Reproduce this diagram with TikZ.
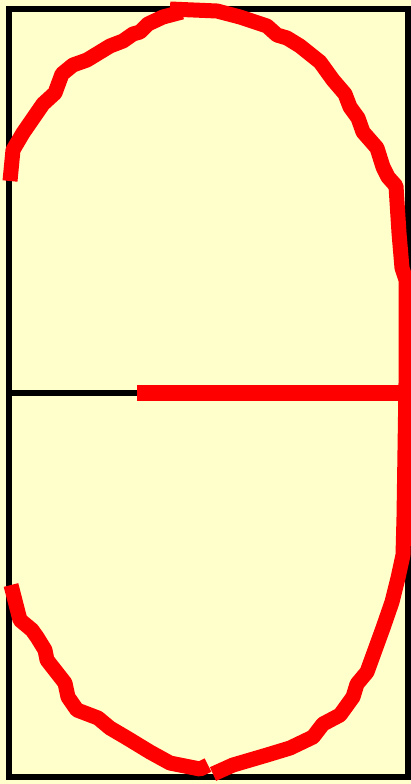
\documentclass[tikz,border=0pt]{standalone}
\definecolor{paper}{HTML}{FFFFCC}
\definecolor{ink}{HTML}{FF0000}
\tikzset{
  frame/.style={draw=black,line width=6pt},
  divider/.style={draw=black,line width=5.5pt},
  redstroke/.style={draw=ink,line width=15pt,line join=round}
}
\begin{document}
\begin{tikzpicture}[x=1pt,y=-1pt]
\fill[paper] (0,0) rectangle (411,784);
\useasboundingbox (0,0) rectangle (411,784);
\draw[frame] (9,9) rectangle (408,777);
\draw[divider] (9,393) -- (140,393);
\draw[redstroke,line width=16pt] (137,393) -- (406,393);
% top-left arc
\draw[redstroke] (10,181) -- (13,150) -- (23,133) -- (43,104) -- (55,93) -- (62,74) -- (73,65) -- (87,60) -- (110,46) -- (123,41) -- (133,34) -- (140,32) -- (148,24) -- (163,17) -- (182,12);
% main arc from top around right side to bottom
\draw[redstroke] (170,9) -- (217,11) -- (240,17) -- (267,26) -- (277,35) -- (287,38) -- (300,46) -- (320,62) -- (333,80) -- (345,94) -- (350,107) -- (358,118) -- (363,132) -- (377,148) -- (383,167) -- (388,177) -- (396,186) -- (399,233) -- (402,268) -- (406,280) -- (406,383) -- (404,517) -- (403,555) -- (398,578) -- (392,602) -- (383,628) -- (367,672) -- (357,684) -- (353,697) -- (340,715) -- (323,724) -- (313,737) -- (290,748) -- (267,755) -- (233,765) -- (213,774);
% bottom-left arc
\draw[redstroke] (208,765) -- (200,769) -- (170,763) -- (150,752) -- (127,738) -- (110,728) -- (98,718) -- (77,710) -- (68,697) -- (65,683) -- (47,660) -- (45,650) -- (37,637) -- (32,630) -- (20,620) -- (11,585);
\end{tikzpicture}
\end{document}
